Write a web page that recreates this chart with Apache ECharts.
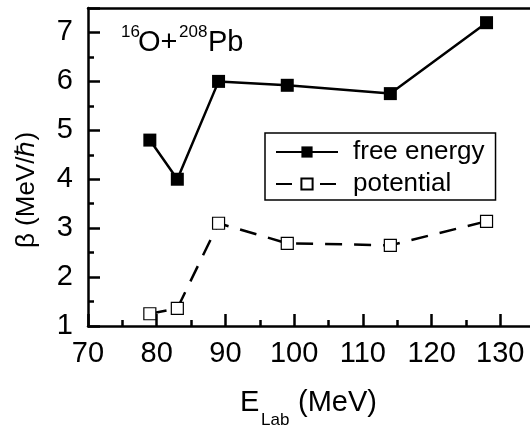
<!DOCTYPE html>
<html>
<head>
<meta charset="utf-8">
<script src="https://cdn.jsdelivr.net/npm/echarts@6/dist/echarts.min.js"></script>
<style>
  html, body { margin: 0; padding: 0; background: #fff; }
  #chart { width: 530px; height: 432px; }
</style>
</head>
<body>
<div id="chart"></div>
<script>
// beam energies (MeV)
const energies = [79, 83, 89, 99, 114, 128]
// beta values (MeV/hbar)
const freeEnergy = [4.8, 4.0, 6.0, 5.92, 5.75, 7.2]
const potential = [1.25, 1.36, 3.1, 2.69, 2.65, 3.14]
const seriesNames = ['free energy', 'potential']

const FONT = 'Liberation Sans, Arial, sans-serif'

const chart = echarts.init(document.getElementById('chart'), null, { renderer: 'canvas' })

const toPairs = vals => energies.map((e, i) => [e, vals[i]])

// plot frame runs past the right edge of the picture (70..140 MeV, 130 is the last visible label)
const option = {
  animation: false,
  backgroundColor: '#fff',
  grid: { left: 88, top: 8, width: 481, height: 318, outerBoundsMode: 'none' },
  xAxis: [
    {
      type: 'value',
      min: 70,
      max: 140,
      interval: 10,
      axisLine: { lineStyle: { color: '#000', width: 2.5 } },
      axisTick: { inside: true, length: 12, lineStyle: { color: '#000', width: 2.5 } },
      minorTick: { show: true, splitNumber: 2, length: 6, lineStyle: { color: '#000', width: 2.5 } },
      axisLabel: {
        color: '#000', fontSize: 29, fontFamily: FONT, margin: 13,
        formatter: v => (v <= 130 ? String(v) : '')
      },
      splitLine: { show: false }
    },
    {
      type: 'value',
      position: 'top',
      min: 70,
      max: 140,
      interval: 10,
      axisLine: { lineStyle: { color: '#000', width: 2.5 } },
      axisTick: { show: false },
      axisLabel: { show: false },
      splitLine: { show: false }
    }
  ],
  yAxis: {
    type: 'value',
    min: 1,
    max: 7.5,
    interval: 1,
    axisLine: { lineStyle: { color: '#000', width: 2.5 } },
    axisTick: { inside: true, length: 12, lineStyle: { color: '#000', width: 2.5 } },
    minorTick: { show: true, splitNumber: 2, length: 6, lineStyle: { color: '#000', width: 2.5 } },
    axisLabel: {
      color: '#000', fontSize: 29, fontFamily: FONT, margin: 15,
      formatter: v => (v % 1 === 0 ? String(v) : '')
    },
    splitLine: { show: false }
  },
  legend: {
    data: [
      { name: seriesNames[0] },
      { name: seriesNames[1], lineStyle: { type: [16, 28] } }
    ],
    orient: 'vertical',
    left: 265,
    top: 133,
    borderColor: '#000',
    borderWidth: 1.5,
    borderRadius: 0,
    padding: [6, 11, 3, 10],
    itemWidth: 62,
    itemHeight: 14,
    itemGap: 6,
    textStyle: { color: '#000', fontSize: 26, fontFamily: FONT, padding: [0, 0, 0, 10] }
  },
  series: [
    {
      name: seriesNames[0],
      type: 'line',
      data: toPairs(freeEnergy),
      symbol: 'rect',
      symbolSize: 13,
      itemStyle: { color: '#000', borderWidth: 0 },
      lineStyle: { color: '#000', width: 2.5 }
    },
    {
      name: seriesNames[1],
      type: 'line',
      data: toPairs(potential),
      symbol: 'rect',
      symbolSize: 12,
      itemStyle: { color: '#fff', borderColor: '#000', borderWidth: 1.2 },
      lineStyle: { color: '#000', width: 2.5, type: [17, 12] }
    }
  ],
  graphic: [
    // reaction label 16O+208Pb
    { type: 'text', left: 121, top: 24, style: { text: '16', fontSize: 17, fontFamily: FONT, fill: '#000' } },
    { type: 'text', left: 138, top: 28, style: { text: 'O+', fontSize: 29, fontFamily: FONT, fill: '#000' } },
    { type: 'text', left: 179, top: 24, style: { text: '208', fontSize: 17, fontFamily: FONT, fill: '#000' } },
    { type: 'text', left: 208, top: 28, style: { text: 'Pb', fontSize: 29, fontFamily: FONT, fill: '#000' } },
    // x axis title E_Lab (MeV)
    { type: 'text', left: 240, top: 388, style: { text: 'E', fontSize: 29, fontFamily: FONT, fill: '#000' } },
    { type: 'text', left: 261, top: 412, style: { text: 'Lab', fontSize: 17, fontFamily: FONT, fill: '#000' } },
    { type: 'text', left: 298, top: 388, style: { text: '(MeV)', fontSize: 29, fontFamily: FONT, fill: '#000' } },
    // y axis title
    {
      type: 'text', x: 27, y: 190, rotation: Math.PI / 2,
      style: { text: 'β (MeV/ℏ)', fontSize: 26, fontFamily: FONT, fill: '#000', align: 'center', verticalAlign: 'middle' }
    }
  ]
}

chart.setOption(option)
</script>
</body>
</html>
